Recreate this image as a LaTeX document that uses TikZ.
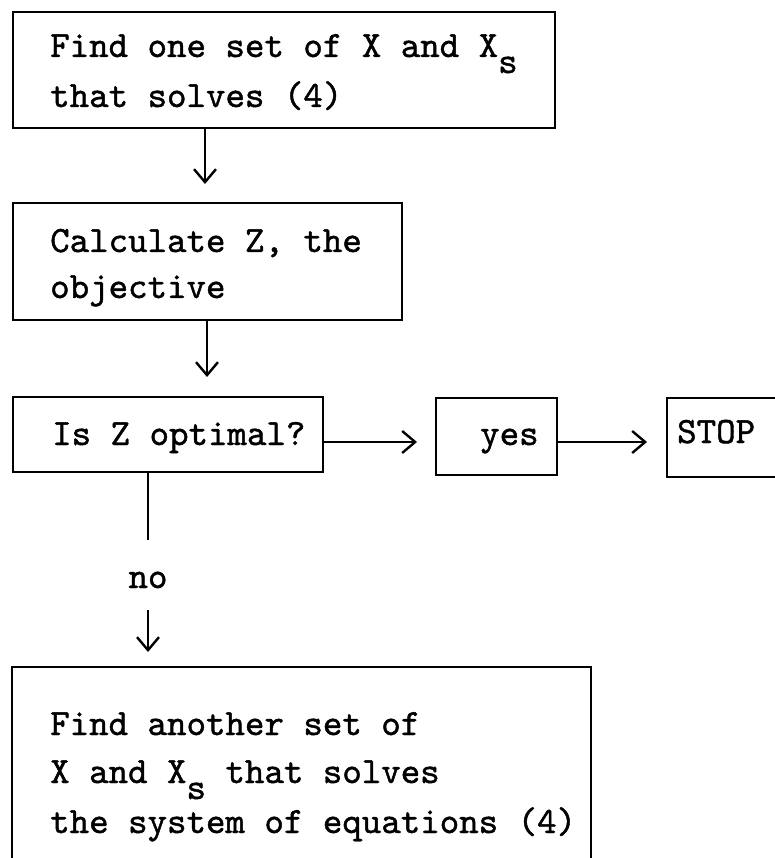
\documentclass[tikz,border=0pt]{standalone}
\usepackage{fontspec}
\newfontfamily\tw{lmmono10-regular.otf}[FakeBold=1.2]
\usetikzlibrary{arrows.meta}
\begin{document}
\begin{tikzpicture}[x=1pt,y=-1pt,
  box/.style={draw, line width=2.6pt, inner sep=0pt, outer sep=0pt, anchor=north west},
  txt/.style={anchor=base west, inner sep=0pt, font=\tw\fontsize{37.1}{44}\selectfont},
  ctxt/.style={anchor=base, inner sep=0pt, font=\tw\fontsize{37.1}{44}\selectfont},
  conn/.style={line width=2.4pt},
  arr/.style={conn, -{Straight Barb[length=13pt,width=22pt,line width=2.4pt]}}
]
\useasboundingbox (0,0) rectangle (774,858);

% boxes
\node[box, minimum width=542pt, minimum height=116pt] (b1) at (13,12) {};
\node[box, minimum width=389pt, minimum height=117pt] (b2) at (13,203) {};
\node[box, minimum width=310pt, minimum height=75pt] (b3) at (13,397) {};
\node[box, minimum width=121pt, minimum height=77pt] (yes) at (436,398) {};
\node[box, minimum width=160pt, minimum height=79pt] (stop) at (667,398) {};
\node[box, minimum width=579pt, minimum height=220pt] (b4) at (12,667) {};

% texts
\node[txt] (t1a) at (50,57) {Find one set of X and X\raisebox{-16pt}{s}};
\node[txt] (t1b) at (50,107) {that solves (4)};
\node[txt] (t2a) at (50,252) {Calculate Z, the};
\node[txt] (t2b) at (50,298) {objective};
\node[txt] (t3) at (52,445) {Is Z optimal?};
\node[txt] (tyes) at (480,445) {yes};
\node[txt] (tstop) at (677,443) {STOP};
\node[ctxt] (no) at (148,588) {no};
\node[txt] (t4a) at (50,735) {Find another set of};
\node[txt] (t4b) at (50,783) {X and X\raisebox{-16pt}{s} that solves};
\node[txt] (t4c) at (50,833) {the system of equations (4)};

% connector end points
\coordinate (e1) at (205,184);
\coordinate (e2) at (207,377);
\coordinate (e3) at (417,442);
\coordinate (e4) at (647,442);
\coordinate (n1) at (148,540);
\coordinate (n2) at (148,610);
\coordinate (n3) at (148,652);

% connectors
\draw[arr] (b1.south -| e1) -- (e1);
\draw[arr] (b2.south -| e2) -- (e2);
\draw[arr] (b3.east |- e3) -- (e3);
\draw[arr] (yes.east |- e4) -- (e4);
\draw[conn] (b3.south -| n1) -- (n1);
\draw[arr] (n2) -- (n3);
\end{tikzpicture}
\end{document}
